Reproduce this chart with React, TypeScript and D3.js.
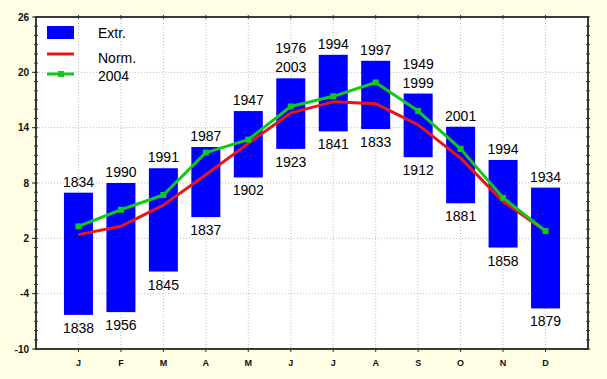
import React from "react";
import * as d3 from "d3";

const months = ["J", "F", "M", "A", "M", "J", "J", "A", "S", "O", "N", "D"];
const extrMax = [6.95, 8.0, 9.6, 11.9, 15.8, 19.35, 21.9, 21.25, 17.7, 14.1, 10.5, 7.5];
const extrMin = [-6.3, -6.0, -1.6, 4.3, 8.6, 11.7, 13.6, 13.85, 10.8, 5.8, 1.0, -5.6];
const maxYears = [["1834"], ["1990"], ["1991"], ["1987"], ["1947"], ["1976", "2003"], ["1994"], ["1997"], ["1949", "1999"], ["2001"], ["1994"], ["1934"]];
const minYears = ["1838", "1956", "1845", "1837", "1902", "1923", "1841", "1833", "1912", "1881", "1858", "1879"];
const norm = [2.4, 3.3, 5.6, 8.9, 12.3, 15.6, 16.8, 16.6, 14.3, 10.7, 6.0, 2.8];
const y2004 = [3.3, 5.1, 6.7, 11.3, 12.7, 16.3, 17.4, 18.9, 15.8, 11.7, 6.4, 2.8];
const yTicks = [-10, -4, 2, 8, 14, 20, 26];
const legendLabels = ["Extr.", "Norm.", "2004"];

const W = 607, H = 379;
const L = 36, R = 588, T = 17, B = 349;

export default function App() {
  const x = d3.scaleLinear().domain([0, 13]).range([L, R]);
  const y = d3.scaleLinear().domain([-10, 26]).range([B, T]);
  const idx = months.map((_, i) => i + 1);
  const barW = 29;
  const line = d3.line<number>().x((_, i) => x(i + 1)).y((v) => y(v));
  const minor = d3.range(-10, 27, 1);
  const font = "Liberation Sans, Arial, sans-serif";

  return (
    <svg width={W} height={H} style={{ position: "absolute", left: 0, top: 0 }} fontFamily={font}>
      <rect x={0} y={0} width={W} height={H} fill="#FFFDE3" />
      <rect x={L} y={T} width={R - L} height={B - T} fill="#FFFFFF" />
      {/* grid */}
      {yTicks.slice(1, -1).map((t) => (
        <line key={"gy" + t} x1={L} x2={R} y1={y(t)} y2={y(t)} stroke="#bdbdbd" strokeDasharray="1,2" />
      ))}
      {idx.map((i) => (
        <line key={"gx" + i} x1={x(i)} x2={x(i)} y1={T} y2={B} stroke="#bdbdbd" strokeDasharray="1,2" />
      ))}
      {/* bars */}
      {idx.map((i, k) => (
        <rect key={"b" + k} x={x(i) - barW / 2} width={barW} y={y(extrMax[k])} height={y(extrMin[k]) - y(extrMax[k])} fill="#0000FF" />
      ))}
      {/* lines */}
      <path d={line(norm) || ""} fill="none" stroke="#E8161A" strokeWidth={3} strokeLinejoin="round" />
      <path d={line(y2004) || ""} fill="none" stroke="#12C81E" strokeWidth={3} strokeLinejoin="round" />
      {y2004.map((v, k) => (
        <rect key={"m" + k} x={x(k + 1) - 3} y={y(v) - 3} width={6} height={6} fill="#12C81E" />
      ))}
      {/* labels */}
      {idx.map((i, k) => (
        <g key={"lt" + k}>
          {maxYears[k].map((s, j) => (
            <text key={j} x={x(i)} y={y(extrMax[k]) - 6 - (maxYears[k].length - 1 - j) * 19} textAnchor="middle" fontSize={14} fill="#000">
              {s}
            </text>
          ))}
          <text x={x(i)} y={y(extrMin[k]) + 18} textAnchor="middle" fontSize={14} fill="#000">
            {minYears[k]}
          </text>
        </g>
      ))}
      {/* frame */}
      <rect x={L} y={T} width={R - L} height={B - T} fill="none" stroke="#3a3a3a" strokeWidth={2} />
      {/* minor ticks */}
      {minor.map((t) => (
        <g key={"mt" + t}>
          <line x1={L - 2} x2={L + 2} y1={y(t)} y2={y(t)} stroke="#333" />
          <line x1={R - 2} x2={R + 2} y1={y(t)} y2={y(t)} stroke="#333" />
        </g>
      ))}
      {yTicks.map((t) => (
        <g key={"yt" + t}>
          <line x1={L - 4} x2={L} y1={y(t)} y2={y(t)} stroke="#333" />
          <text x={29} y={y(t) + 3.5} textAnchor="end" fontSize={10} fontWeight="bold" fill="#111">
            {t}
          </text>
        </g>
      ))}
      {idx.map((i, k) => (
        <g key={"xt" + k}>
          <line x1={x(i)} x2={x(i)} y1={B} y2={B + 3} stroke="#333" />
          <line x1={x(i)} x2={x(i)} y1={T - 2} y2={T + 2} stroke="#333" />
          <text x={x(i)} y={366} textAnchor="middle" fontSize={9} fontWeight="bold" fill="#111">
            {months[k]}
          </text>
        </g>
      ))}
      {/* legend */}
      <rect x={47} y={26} width={27} height={13} fill="#0000FF" />
      <line x1={47} x2={74} y1={54} y2={54} stroke="#E8161A" strokeWidth={3} />
      <line x1={47} x2={74} y1={74} y2={74} stroke="#12C81E" strokeWidth={3} />
      <rect x={58} y={71} width={6} height={6} fill="#12C81E" />
      {legendLabels.map((s, j) => (
        <text key={s} x={98} y={[38, 63, 81][j]} fontSize={14} fill="#000">
          {s}
        </text>
      ))}
    </svg>
  );
}
